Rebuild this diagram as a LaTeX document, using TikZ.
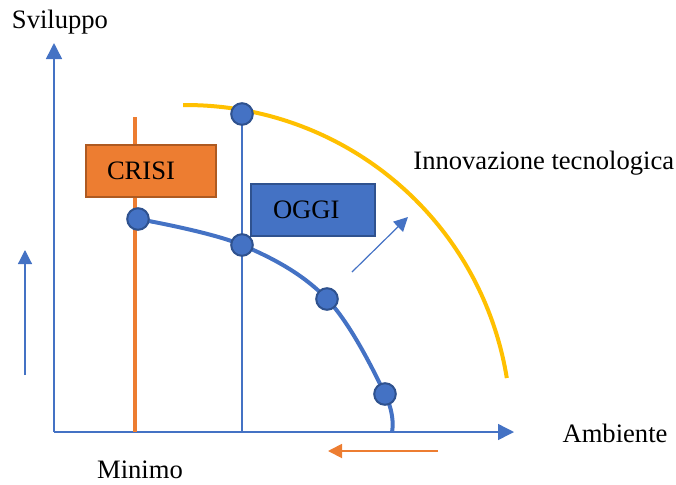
\documentclass[tikz,border=0pt]{standalone}
\usepackage{fontspec}
\setmainfont{Liberation Serif}
\usetikzlibrary{arrows.meta}
\definecolor{oblue}{HTML}{4472C4}
\definecolor{dblue}{HTML}{2F528F}
\definecolor{oorange}{HTML}{ED7D31}
\definecolor{dorange}{HTML}{AE5A21}
\definecolor{oyellow}{HTML}{FFC000}
\begin{document}
\begin{tikzpicture}[x=0.5pt,y=-0.5pt,
  lbl/.style={font=\fontsize{13.3}{16}\selectfont, inner sep=0pt},
  dot/.style={circle, fill=oblue, draw=dblue, line width=1pt, minimum size=10.8pt, inner sep=0pt},
  box/.style={rectangle, line width=1pt, minimum height=26pt, inner ysep=0pt, align=left,
    font=\fontsize{13.3}{16}\selectfont},
  axisline/.style={draw=oblue, line width=0.75pt, -{Triangle[length=8pt,width=8pt]}},
  smallarrow/.style={line width=0.6pt, -{Triangle[length=7pt,width=7pt]}}]
\useasboundingbox (0,0) rectangle (676,484);

% axes
\coordinate (O) at (54,432);
\coordinate (ytip) at (54,43);
\coordinate (xtip) at (514,432);
\draw[axisline] (O) -- (ytip);
\draw[axisline] (O) -- (xtip);

% labels
\node[lbl] (svil) at (60,22) {Sviluppo};
\node[lbl] (amb) at (615,433) {Ambiente};
\node[lbl] (min) at (140,470) {Minimo};
\node[lbl, anchor=west] (inn) at (413,163) {Innovazione tecnologica};

% left small arrow
\coordinate (la0) at (25,375);
\coordinate (la1) at (25,250);
\draw[smallarrow, oblue] (la0) -- (la1);

% bottom orange arrow
\coordinate (oa0) at (438,451);
\coordinate (oa1) at (328,451);
\draw[smallarrow, oorange, line width=0.9pt] (oa0) -- (oa1);

% diagonal arrow
\coordinate (da0) at (352,272);
\coordinate (da1) at (408,217);
\draw[smallarrow, oblue] (da0) -- (da1);

% orange vertical line
\coordinate (ot) at (135,117);
\coordinate (ob) at (135,432);
\draw[oorange, line width=1.75pt] (ot) -- (ob);

% yellow arc
\draw[oyellow, line width=2pt] plot[domain=90.5:9.2, samples=80] ({186+325*cos(\x)}, {430-325*sin(\x)});

% blue vertical line
\coordinate (topc) at (242,114);
\coordinate (bb) at (242,432);
\draw[oblue, line width=0.75pt] (topc) -- (bb);

% blue curve
\draw[oblue, line width=2pt] plot[smooth, tension=0.6] coordinates {(138,219) (242,245) (327,299) (385,394) (392,432)};

% dots
\node[dot] (d1) at (138,219) {};
\node[dot] (d2) at (242,245) {};
\node[dot] (d3) at (327,299) {};
\node[dot] (d4) at (385,394) {};
\node[dot] (top) at (topc) {};

% boxes
\node[box, fill=oorange, draw=dorange, text width=44pt, inner xsep=10.5pt] (crisi) at (151,171) {CRISI};
\node[box, fill=oblue, draw=dblue, text width=40pt, inner xsep=11pt] (oggi) at (313,210) {OGGI};
\end{tikzpicture}
\end{document}
